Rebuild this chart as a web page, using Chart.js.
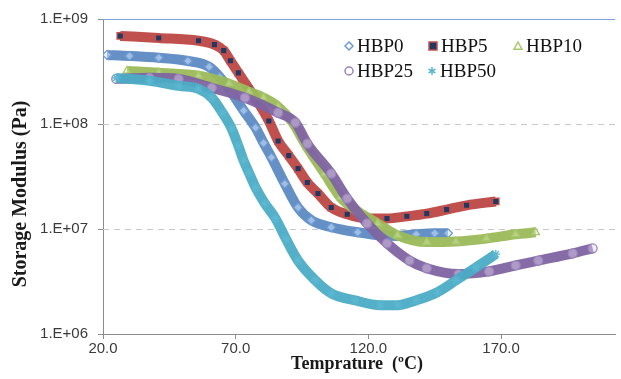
<!DOCTYPE html>
<html><head><meta charset="utf-8">
<script src="https://cdn.jsdelivr.net/npm/chart.js@4.4.1/dist/chart.umd.min.js"></script>
<style>html,body{margin:0;padding:0;background:#fff;}#wrap{width:621px;height:379px;position:relative}</style>
</head><body><div id="wrap"><canvas id="c" width="621" height="379"></canvas></div>
<script>
// ---------- data ----------
const seriesNames = ['HBP0','HBP5','HBP10','HBP25','HBP50'];

const hbp0T = [21.5,30,41,52,60,64,68.5,73,77.5,80.5,83.5,88.5,93.5,98.5,106,116,124.5,131,138,145,150];
const hbp0E = [4.55e8,4.45e8,4.27e8,3.98e8,3.5e8,2.8e8,1.98e8,1.34e8,9.2e7,6.6e7,4.8e7,2.7e7,1.6e7,1.21e7,1.04e7,9.3e6,8.7e6,8.6e6,8.9e6,9.1e6,9.1e6];

const hbp5T = [26.5,41,56,62,65.5,68,71,75,78.5,82.5,86,90,93.5,97,101,106,112,119.5,127,134.5,142,149.5,157,168];
const hbp5E = [6.9e8,6.6e8,6.2e8,5.7e8,5.0e8,4.0e8,3.07e8,2.16e8,1.6e8,1.07e8,6.9e7,5.0e7,3.76e7,2.77e7,2.18e7,1.6e7,1.38e7,1.26e7,1.26e7,1.32e7,1.4e7,1.53e7,1.68e7,1.83e7];

const hbp10T = [29,41,56,67.5,75,80.5,86,91,97,103.5,109.5,116,123.5,131,142,153,164.5,175.5,183];
const hbp10E = [3.2e8,3.07e8,2.88e8,2.42e8,2.03e8,1.78e8,1.46e8,1.07e8,5.96e7,3.37e7,2.0e7,1.47e7,1.13e7,8.7e6,7.5e6,7.6e6,8.1e6,8.9e6,9.3e6];

const hbp25T = [25,37.5,48.5,61,73.5,86,92.5,97,106,112,119.5,127,135.5,142,154,165.5,175.5,184,197,204.5];
const hbp25E = [2.69e8,2.75e8,2.69e8,2.21e8,1.78e8,1.28e8,1.03e8,6.5e7,3.37e7,1.95e7,1.13e7,7.3e6,5.0e6,4.23e6,3.72e6,3.95e6,4.5e6,5.0e6,5.87e6,6.55e6];

const hbp50T = [25,37.5,48.5,56,61,65,68.5,71,73,75,77.5,81,85,89,93.5,100,106,115,124.5,131,138,146,153,160.5,168];
const hbp50E = [2.75e8,2.58e8,2.31e8,2.16e8,1.78e8,1.28e8,9.0e7,6.2e7,4.47e7,3.44e7,2.48e7,1.75e7,1.26e7,8.0e6,5.0e6,3.24e6,2.44e6,2.09e6,1.88e6,1.88e6,2.09e6,2.5e6,3.24e6,4.3e6,5.76e6];

const xTicks = [20,70,120,170];
const xTickLabels = ['20.0','70.0','120.0','170.0'];
const yTicks = [1e6,1e7,1e8,1e9];
const yTickLabels = ['1.E+06','1.E+07','1.E+08','1.E+09'];
const xTitle = 'Temprature  (ºC)';
const yTitle = 'Storage Modulus (Pa)';

// ---------- styles ----------
const pts = (T,E) => T.map((t,i)=>({x:t,y:E[i]}));
const styles = [
  {line:'rgba(79,129,189,0.88)', pt:'#6d9ad4', fill:'rgba(210,228,248,0.55)', shape:'rectRot'},
  {line:'#c0504d', pt:'#c0504d', fill:'#1f3864', shape:'rect'},
  {line:'rgba(155,187,89,0.95)', pt:'#a9c86e', fill:'rgba(215,232,185,0.45)', shape:'triangle'},
  {line:'rgba(128,100,162,0.95)', pt:'#9b84bd', fill:'rgba(222,212,236,0.45)', shape:'circle'},
  {line:'rgba(75,172,198,0.95)', pt:'#5bb8d0', fill:'#4bacc6', shape:'star'}
];
const allT = [hbp0T,hbp5T,hbp10T,hbp25T,hbp50T];
const allE = [hbp0E,hbp5E,hbp10E,hbp25E,hbp50E];

const datasets = seriesNames.map((name,i)=>({
  label:name,
  data:pts(allT[i],allE[i]),
  showLine:true,
  borderColor:styles[i].line,
  borderWidth:10,
  cubicInterpolationMode:'monotone',
  pointStyle:styles[i].shape,
  pointRadius:4.5,
  pointBorderWidth:1.3,
  pointBorderColor:styles[i].pt,
  pointBackgroundColor:styles[i].fill,
  order:4-i
}));

const gridPlugin = {
  id:'gridPlugin',
  beforeDatasetsDraw(chart){
    const {ctx, chartArea:a, scales:{y}} = chart;
    ctx.save();
    yTicks.forEach(v=>{
      if (v===yTicks[0]) return;
      const py = Math.round(y.getPixelForValue(v))+0.5;
      ctx.beginPath();
      if (v===yTicks[yTicks.length-1]) { ctx.setLineDash([]); ctx.strokeStyle='#7aa3da'; ctx.lineWidth=1.2; }
      else { ctx.setLineDash([6,5]); ctx.strokeStyle='#c8c8c8'; ctx.lineWidth=1; }
      ctx.moveTo(a.left,py); ctx.lineTo(a.right,py); ctx.stroke();
    });
    ctx.restore();
  }
};

function drawMarker(ctx, shape, x, y, s){
  ctx.beginPath();
  if (shape==='rectRot'){ ctx.moveTo(x,y-s); ctx.lineTo(x+s,y); ctx.lineTo(x,y+s); ctx.lineTo(x-s,y); ctx.closePath(); }
  else if (shape==='rect'){ ctx.rect(x-s,y-s,2*s,2*s); }
  else if (shape==='triangle'){ ctx.moveTo(x,y-s); ctx.lineTo(x+s,y+s*0.8); ctx.lineTo(x-s,y+s*0.8); ctx.closePath(); }
  else if (shape==='circle'){ ctx.arc(x,y,s,0,Math.PI*2); }
  else if (shape==='star'){ ctx.moveTo(x,y-s); ctx.lineTo(x,y+s); ctx.moveTo(x-s*0.85,y-s*0.5); ctx.lineTo(x+s*0.85,y+s*0.5); ctx.moveTo(x-s*0.85,y+s*0.5); ctx.lineTo(x+s*0.85,y-s*0.5); }
}

const legendPos = [[349,46],[433,46],[518,46],[349,71],[432,71]];
const legendPlugin = {
  id:'legendPlugin',
  afterDraw(chart){
    const ctx = chart.ctx;
    ctx.save();
    seriesNames.forEach((name,i)=>{
      const [mx,my] = legendPos[i];
      const st = styles[i];
      ctx.lineWidth = 1.5;
      ctx.strokeStyle = st.pt;
      drawMarker(ctx, st.shape, mx, my, 4);
      if (st.shape==='rect'){ ctx.fillStyle = st.fill; ctx.fill(); }
      else if (st.shape!=='star'){ ctx.fillStyle='#fff'; ctx.fill(); }
      ctx.stroke();
      ctx.fillStyle = '#111';
      ctx.font = '19px "Liberation Serif"';
      ctx.textBaseline = 'middle';
      ctx.textAlign = 'left';
      ctx.fillText(name, mx+8, my+1);
    });
    // axis titles
    ctx.fillStyle = '#1a1a1a';
    ctx.textAlign = 'center';
    ctx.textBaseline = 'middle';
    ctx.font = 'bold 18px "Liberation Serif"';
    ctx.fillText(xTitle, 357, 364);
    ctx.translate(21, 194);
    ctx.rotate(-Math.PI/2);
    ctx.font = 'bold 20px "Liberation Serif"';
    ctx.fillText(yTitle, 0, 0);
    ctx.restore();
  }
};

new Chart(document.getElementById('c'), {
  type:'line',
  data:{datasets},
  plugins:[gridPlugin, legendPlugin],
  options:{
    responsive:false, animation:false,
    layout:{padding:{left:0,right:0,top:18,bottom:0}},
    plugins:{legend:{display:false}, tooltip:{enabled:false}},
    scales:{
      x:{
        type:'linear', min:20, max:213,
        afterBuildTicks:s=>{ s.ticks = xTicks.map(v=>({value:v})); },
        afterFit:s=>{ s.height = 45; },
        grid:{display:true, drawOnChartArea:false, drawTicks:true, tickLength:5, color:'#8c8c8c'},
        border:{display:true, color:'#8c8c8c', width:1},
        ticks:{callback:(v,i)=>xTickLabels[i], font:{family:'Liberation Sans', size:15}, color:'#3a3a3a', padding:1, maxRotation:0, autoSkip:false},
        title:{display:false}
      },
      y:{
        type:'logarithmic', min:1e6, max:1e9,
        afterBuildTicks:s=>{ s.ticks = yTicks.map(v=>({value:v})); },
        afterFit:s=>{ s.width = 103; },
        grid:{display:true, drawOnChartArea:false, drawTicks:true, tickLength:5, color:'#8c8c8c'},
        border:{display:true, color:'#8c8c8c', width:1},
        ticks:{callback:(v,i)=>yTickLabels[i], font:{family:'Liberation Sans', size:15}, color:'#3a3a3a', padding:10, autoSkip:false},
        title:{display:false}
      }
    }
  }
});
</script></body></html>
